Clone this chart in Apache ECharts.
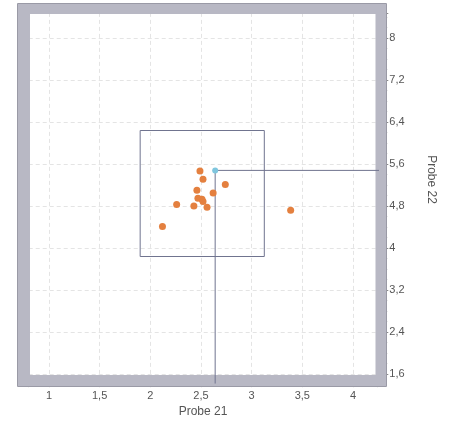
<!DOCTYPE html>
<html>
<head>
<meta charset="utf-8">
<script src="https://cdn.jsdelivr.net/npm/echarts@6/dist/echarts.min.js"></script>
<style>
html,body{margin:0;padding:0;background:#fff;}
#c{width:456px;height:423px;}
</style>
</head>
<body>
<div id="c"></div>
<script>
// ---- data ----
var xTickLabels = ['1', '1,5', '2', '2,5', '3', '3,5', '4'];
var yTickLabels = ['1,6', '2,4', '3,2', '4', '4,8', '5,6', '6,4', '7,2', '8'];
var orangeX = [2.49, 2.52, 2.74, 2.46, 2.62, 2.47, 2.51, 2.52, 2.43, 2.56, 2.26, 2.12, 3.385];
var orangeY = [5.47, 5.31, 5.21, 5.10, 5.05, 4.95, 4.93, 4.89, 4.80, 4.78, 4.83, 4.41, 4.72];
var blueX = [2.64];
var blueY = [5.48];
var boxX = [1.9, 3.125];
var boxY = [3.84, 6.24];
var xName = 'Probe 21';
var yName = 'Probe 22';

// axis extents (value space)
var xMin = 0.8, xMax = 4.24, xEdge = 4.31;
var yMin = 1.6, yMax = 8.48, yEdge = 1.42;

var orangeData = orangeX.map(function (x, i) { return [x, orangeY[i]]; });
var blueData = blueX.map(function (x, i) { return [x, blueY[i]]; });
var boxData = [
  [boxX[0], boxY[0]], [boxX[1], boxY[0]], [boxX[1], boxY[1]], [boxX[0], boxY[1]], [boxX[0], boxY[0]]
];
var crossData = [
  [blueX[0], yEdge], [blueX[0], blueY[0]], [xEdge, blueY[0]]
];

function fmt(v) { return String(Math.round(v * 10) / 10).replace('.', ','); }
var xLabelSet = {}; xTickLabels.forEach(function (t) { xLabelSet[t] = 1; });
var yLabelSet = {}; yTickLabels.forEach(function (t) { yLabelSet[t] = 1; });

var chart = echarts.init(document.getElementById('c'), null, { renderer: 'canvas' });
var labelFont = { fontFamily: 'Liberation Sans, Arial, sans-serif', fontSize: 11, color: '#555' };
var gridLine = { show: true, lineStyle: { color: '#e4e4e4', type: [4, 3], width: 1 } };
var frameFill = '#b8b8c4';

chart.setOption({
  animation: false,
  backgroundColor: '#fff',
  grid: { left: 28.7, right: 78.7, top: 12.9, bottom: 46.3, containLabel: false },
  xAxis: {
    type: 'value', min: xMin, max: xMax, splitNumber: 7,
    offset: 10,
    axisLine: { show: false },
    axisTick: { show: true, length: 3, lineStyle: { color: '#888' } },
    minorTick: { show: true, splitNumber: 5, length: 2, lineStyle: { color: '#bbb' } },
    axisLabel: Object.assign({ margin: 6, showMinLabel: false, showMaxLabel: false,
      formatter: function (v) { var s = fmt(v); return xLabelSet[s] ? s : ''; } }, labelFont),
    splitLine: gridLine,
    name: xName, nameLocation: 'middle', nameGap: 21,
    nameTextStyle: { fontFamily: 'Liberation Sans, Arial, sans-serif', fontSize: 12, color: '#555' }
  },
  yAxis: {
    type: 'value', position: 'right', min: yMin, max: yMax, interval: 0.8,
    offset: 8,
    axisLine: { show: false },
    axisTick: { show: true, length: 3, lineStyle: { color: '#888' } },
    minorTick: { show: true, splitNumber: 4, length: 2, lineStyle: { color: '#bbb' } },
    axisLabel: Object.assign({ margin: 4, showMinLabel: true, showMaxLabel: false,
      formatter: function (v) { var s = fmt(v); return yLabelSet[s] ? s : ''; } }, labelFont),
    splitLine: gridLine,
    name: yName, nameLocation: 'middle', nameGap: 40, nameRotate: -90,
    nameTextStyle: { fontFamily: 'Liberation Sans, Arial, sans-serif', fontSize: 12, color: '#555', padding: [0, 28, 0, 0] }
  },
  graphic: [
    { type: 'rect', z: 1, silent: true, shape: { x: 18, y: 4, width: 12, height: 382 }, style: { fill: frameFill } },
    { type: 'rect', z: 1, silent: true, shape: { x: 375.5, y: 4, width: 10.5, height: 382 }, style: { fill: frameFill } },
    { type: 'rect', z: 1, silent: true, shape: { x: 18, y: 4, width: 368, height: 10 }, style: { fill: frameFill } },
    { type: 'rect', z: 1, silent: true, shape: { x: 18, y: 375, width: 368, height: 11 }, style: { fill: frameFill } },
    { type: 'rect', z: 1, silent: true,
      shape: { x: 17.5, y: 3.5, width: 369, height: 383 },
      style: { fill: 'none', stroke: '#9a9aa6', lineWidth: 1 } }
  ],
  series: [
    { type: 'line', data: boxData, symbol: 'none', z: 3, clip: false,
      lineStyle: { color: '#70748f', width: 1 } },
    { type: 'line', data: crossData, symbol: 'none', z: 3, clip: false,
      lineStyle: { color: '#70748f', width: 1 } },
    { type: 'scatter', data: orangeData, symbolSize: 7, z: 4,
      itemStyle: { color: '#e4803f', opacity: 1 } },
    { type: 'scatter', data: blueData, symbolSize: 6, z: 5,
      itemStyle: { color: '#7fc6de', opacity: 1 } }
  ]
});
</script>
</body>
</html>
